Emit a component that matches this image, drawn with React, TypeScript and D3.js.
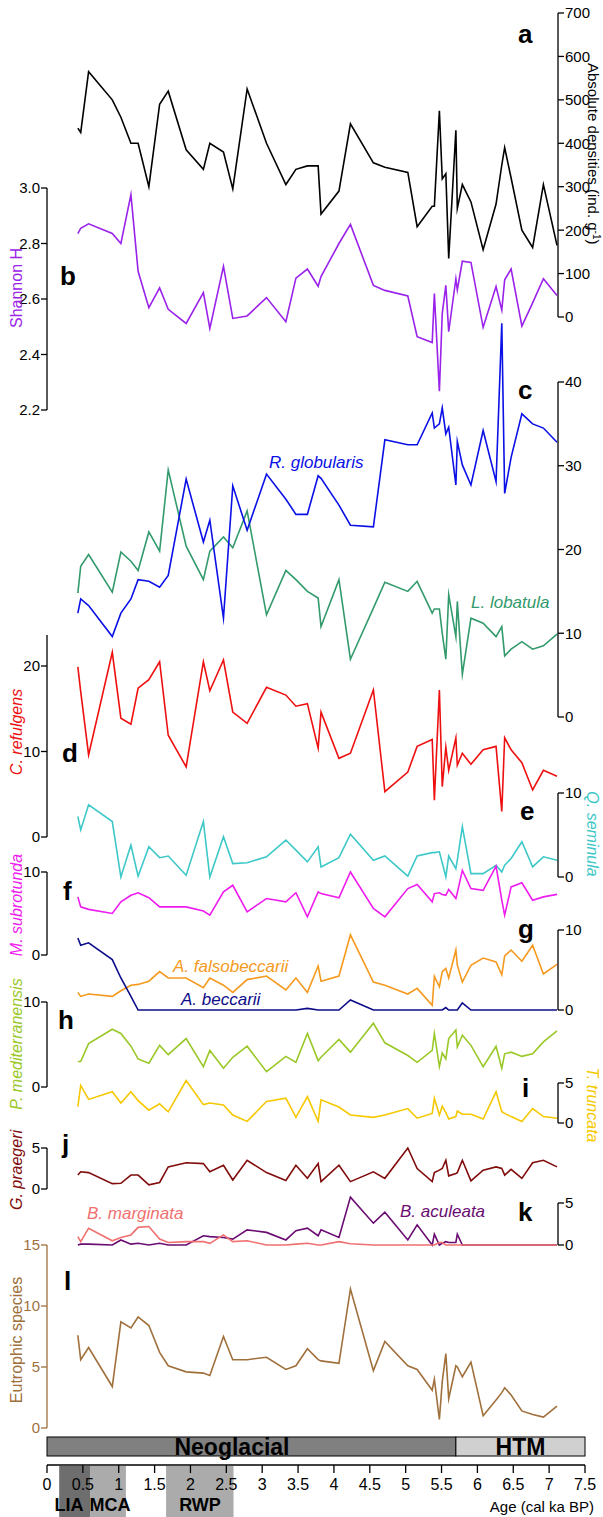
import React from 'react';
import * as d3 from 'd3';

// ---------- data ----------
const ages = [0.43,0.47,0.58,0.91,1.03,1.17,1.27,1.42,1.57,1.69,1.94,2.18,2.27,2.46,2.59,2.79,3.06,3.33,3.47,3.63,3.78,3.82,4.07,4.23,4.55,4.71,5.03,5.16,5.37,5.40,5.47,5.51,5.56,5.60,5.70,5.72,5.79,5.91,6.08,6.26,6.34,6.38,6.47,6.62,6.77,6.92,7.11];

const absDensity = [435,425,565,500,460,400,400,300,490,520,385,340,400,380,295,525,400,305,340,348,348,237,290,445,355,345,333,208,255,255,475,318,330,135,430,250,305,265,155,260,350,390,320,200,160,305,165];
const shannon = [2.836,2.855,2.871,2.836,2.80,2.976,2.70,2.569,2.64,2.563,2.512,2.623,2.494,2.718,2.53,2.539,2.605,2.518,2.675,2.708,2.646,2.681,2.80,2.869,2.649,2.631,2.611,2.464,2.443,2.62,2.268,2.548,2.649,2.482,2.673,2.633,2.736,2.732,2.498,2.645,2.56,2.669,2.708,2.502,2.586,2.673,2.613];
const rGlobularis = [12.4,14.1,13.3,9.6,12.4,14.1,16.4,16.2,15.5,16.9,28.4,20.9,23.5,11.8,27.6,22.3,29.0,26.0,24.2,24.2,28.8,28.5,25.3,22.9,22.7,33.1,32.5,32.5,36.3,34.5,35.0,36.9,33.8,34.6,27.7,32.9,30.1,27.7,34.2,28.1,47,26.7,31,36.2,35.0,34.5,32.8];
const lLobatula = [14.8,18.0,19.4,14.9,19.7,18.6,17.5,22.1,19.8,29.5,20.4,16.4,19.8,21.5,20.2,24.6,12.2,17.5,16.4,15.0,14.2,10.8,16.4,6.9,13.0,16.1,15.0,16.2,12.4,12.9,12.9,10.0,6.9,14.6,9.6,13.8,5.1,11.8,11.2,9.6,10.8,7.3,8.1,9.0,8.1,8.5,9.9];
const cRefulgens = [19.9,17.0,9.6,21.6,13.9,13.2,17.4,18.4,20.5,11.9,8.2,20.5,17.1,20.7,14.6,13.3,17.5,16.6,15.3,15.6,10.4,14.6,9.2,9.8,17.2,5.3,7.6,10.6,11.4,4.3,17.2,5.9,10.5,7.8,11.6,8.4,9.8,8.5,10.2,10.6,3.0,11.6,10.2,8.7,5.5,7.8,7.1];
const qSeminula = [7.2,5.6,8.6,6.6,0.0,3.8,0.1,3.6,2.3,2.5,0.2,6.6,0.0,4.8,1.6,1.7,2.4,4.4,3.2,1.8,3.6,1.2,2.3,5.1,2.0,2.5,0.1,2.5,2.9,2.9,3.0,1.7,0.0,2.5,1.0,2.0,6.0,0.4,0.4,1.4,0.6,1.4,2.2,4.2,1.2,2.4,2.0];
const mSubrotunda = [7.0,5.8,5.5,5.0,6.4,7.2,7.5,6.9,5.8,5.8,5.8,5.3,4.8,7.6,8.4,5.2,6.8,6.4,7.5,4.6,7.6,7.4,6.9,10.0,5.6,4.6,8.0,8.5,6.4,7.4,7.5,7.3,7.2,7.9,6.8,7.5,10.2,8.0,7.8,10.7,6.6,4.8,8.2,8.7,6.6,7.0,7.3];
const aFalsobeccarii = [2.2,1.7,2.0,1.7,2.4,3.1,3.2,3.6,4.8,4.0,4.0,2.8,4.0,3.1,2.2,3.8,4.25,2.5,4.0,2.2,5.5,3.6,4.25,9.4,3.5,3.1,2.0,2.7,0.6,4.2,2.9,4.8,5.2,4.0,7.5,5.6,3.5,5.6,6.5,6.0,4.4,6.75,7.5,6.1,8.1,4.5,5.7];
const aBeccarii = [9.0,8.1,8.4,6.3,4.0,1.7,0,0,0,0,0,0,0,0,0,0,0,0,0,0.2,0,0,0,1.25,0,0,0,0,0,0,0,0,0.3,0,0,0,0.9,0,0,0,0,0,0,0,0,0,0];
const pMediterranensis = [3.0,3.0,5.1,6.8,6.3,4.8,3.3,2.8,4.9,3.8,5.7,2.4,4.3,2.2,3.5,4.8,1.8,3.6,2.9,6.3,3.1,3.5,5.6,4.1,7.5,5.2,3.7,2.9,4.3,6.3,2.4,4.0,3.3,5.7,6.7,4.7,6.1,4.9,2.4,4.8,2.2,3.9,4.1,3.6,3.9,5.3,6.6];
const tTruncata = [2.05,4.7,2.95,3.9,2.5,3.9,2.8,1.6,2.4,1.4,5.3,2.3,2.5,2.25,1.0,0.2,2.7,3.1,0.7,3.3,0.2,2.9,2.0,1.0,0.7,1.0,1.8,0.6,1.2,3.1,1.0,2.1,1.3,0.5,0.8,1.5,1.1,1.1,0.5,3.9,1.4,1.2,0.8,0.2,1.8,0.8,0.6];
const gPraegeri = [1.7,2.1,2.0,0.65,0.7,1.7,1.7,0.5,0.8,2.7,3.2,3.1,2.1,2.9,1.1,3.5,2.0,1.05,2.9,1.3,3.1,0.9,2.9,0.9,2.1,1.3,5.0,2.5,0.9,2.0,2.3,2.5,3.5,1.6,1.9,2.0,3.5,1.0,2.3,2.7,2.5,1.7,2.4,1.3,3.2,3.5,2.7];
const bMarginata = [1.0,0.4,2.0,0.5,0.9,1.2,2.1,2.2,0.7,0.3,0.4,0.4,0.2,1.2,0.4,0.5,0,0,0.1,0.2,0,0,0.4,0.15,0,0,0,0,0,0,0.3,0.3,0,0,0,0,0,0,0,0,0,0,0,0,0,0,0];
const bAculeata = [0,0.1,0.1,0,0.6,0.1,0.2,0,0.2,0,0,1.1,1.0,0.9,0.7,1.8,1.5,0.6,1.7,2.0,1.1,1.8,0.9,5.7,2.6,3.9,0.6,2.4,0,1.3,0,0.2,0.4,0.3,0.3,1.3,0,0,0,0,0,0,0,0,0,0,0];
const eutrophic = [7.6,5.6,6.6,3.4,8.7,8.2,9.1,8.4,6.2,5.1,4.6,4.5,4.3,7.5,5.6,5.6,5.8,4.8,5.1,6.5,5.6,5.5,5.3,11.4,4.7,7.1,5.1,4.8,3.1,4.0,0.7,3.8,6.1,2.4,5.1,5.0,4.2,5.4,1.0,2.3,2.9,3.3,2.7,1.4,1.1,0.9,1.8];

const ageTicks = [0,0.5,1,1.5,2,2.5,3,3.5,4,4.5,5,5.5,6,6.5,7,7.5];
const periods = [
  { name: 'Neoglacial', from: 0, to: 5.7 },
  { name: 'HTM', from: 5.7, to: 7.5 },
];
const events = [
  { name: 'LIA', from: 0.17, to: 0.6 },
  { name: 'MCA', from: 0.6, to: 1.1 },
  { name: 'RWP', from: 1.66, to: 2.6 },
];

// ---------- layout ----------
const FONT = "'Liberation Sans', Arial, Helvetica, sans-serif";
const LEFT_X = 47;
const RIGHT_X = 558;
const x = d3.scaleLinear().domain([0, 7.5]).range([47, 585]);

type Series = { values: number[]; color: string };
type Panel = {
  letter: string; lx: number; ly: number;
  domain: [number, number]; range: [number, number];
  side: 'left' | 'right'; ticks: number[]; fmt?: (v: number) => string;
  axisColor: string; axisTop?: number; series: Series[];
};

const panels: Panel[] = [
  { letter: 'a', lx: 518, ly: 43, domain: [0, 700], range: [317, 13], side: 'right', ticks: [0,100,200,300,400,500,600,700], axisColor: '#000', series: [{ values: absDensity, color: '#000' }] },
  { letter: 'b', lx: 60, ly: 285, domain: [2.2, 3.0], range: [410, 188], side: 'left', ticks: [2.2,2.4,2.6,2.8,3.0], fmt: d3.format('.1f'), axisColor: '#000', series: [{ values: shannon, color: '#9a22ea' }] },
  { letter: 'c', lx: 518, ly: 399, domain: [0, 40], range: [717, 382], side: 'right', ticks: [0,10,20,30,40], axisColor: '#000', series: [{ values: lLobatula, color: '#329a6c' }, { values: rGlobularis, color: '#0a10e6' }] },
  { letter: 'd', lx: 62, ly: 762, domain: [0, 20], range: [837, 666], side: 'left', ticks: [0,10,20], axisColor: '#000', axisTop: 635, series: [{ values: cRefulgens, color: '#ee1010' }] },
  { letter: 'e', lx: 520, ly: 820, domain: [0, 10], range: [877, 793], side: 'right', ticks: [0,10], axisColor: '#000', series: [{ values: qSeminula, color: '#3ec8c8' }] },
  { letter: 'f', lx: 63, ly: 900, domain: [0, 10], range: [955, 872], side: 'left', ticks: [0,10], axisColor: '#000', series: [{ values: mSubrotunda, color: '#ee1cee' }] },
  { letter: 'g', lx: 518, ly: 938, domain: [0, 10], range: [1010, 930], side: 'right', ticks: [0,10], axisColor: '#000', series: [{ values: aFalsobeccarii, color: '#f59a1e' }, { values: aBeccarii, color: '#0c0c8a' }] },
  { letter: 'h', lx: 58, ly: 1029, domain: [0, 10], range: [1087, 1002], side: 'left', ticks: [0,10], axisColor: '#000', series: [{ values: pMediterranensis, color: '#9ac828' }] },
  { letter: 'i', lx: 522, ly: 1097, domain: [0, 5], range: [1123, 1083], side: 'right', ticks: [0,5], axisColor: '#000', series: [{ values: tTruncata, color: '#f6c800' }] },
  { letter: 'j', lx: 62, ly: 1153, domain: [0, 5], range: [1189, 1148], side: 'left', ticks: [0,5], axisColor: '#000', series: [{ values: gPraegeri, color: '#800c0c' }] },
  { letter: 'k', lx: 518, ly: 1221, domain: [0, 5], range: [1245, 1203], side: 'right', ticks: [0,5], axisColor: '#000', series: [{ values: bAculeata, color: '#6a0c72' }, { values: bMarginata, color: '#f07070' }] },
  { letter: 'l', lx: 64, ly: 1290, domain: [0, 15], range: [1428, 1245], side: 'left', ticks: [0,5,10,15], axisColor: '#a0703c', series: [{ values: eutrophic, color: '#a0703c' }] },
];

const leftLabels = [
  { text: 'Shannon H', color: '#9a22ea', cy: 288, italic: false },
  { text: 'C. refulgens', color: '#ee1010', cy: 732, italic: true },
  { text: 'M. subrotunda', color: '#ee1cee', cy: 905, italic: true },
  { text: 'P. mediterranensis', color: '#9ac828', cy: 1044, italic: true },
  { text: 'G. praegeri', color: '#800c0c', cy: 1170, italic: true },
  { text: 'Eutrophic species', color: '#a0703c', cy: 1340, italic: false },
];

const rightLabels = [
  { text: 'Q. seminula', color: '#3ec8c8', cy: 834 },
  { text: 'T. truncata', color: '#f6c800', cy: 1105 },
];

const speciesLabels = [
  { text: 'R. globularis', color: '#0a10e6', x: 269, y: 468 },
  { text: 'L. lobatula', color: '#329a6c', x: 471, y: 608 },
  { text: 'A. falsobeccarii', color: '#f59a1e', x: 173, y: 972 },
  { text: 'A. beccarii', color: '#0c0c8a', x: 181, y: 1005 },
  { text: 'B. marginata', color: '#f07070', x: 87, y: 1219 },
  { text: 'B. aculeata', color: '#6a0c72', x: 400, y: 1217 },
];

function PanelView({ p }: { p: Panel }) {
  const y = d3.scaleLinear().domain(p.domain).range(p.range);
  const line = d3.line<number>().x((_, i) => x(ages[i])).y((v) => y(v));
  const axX = p.side === 'left' ? LEFT_X : RIGHT_X;
  const dir = p.side === 'left' ? -1 : 1;
  const top = p.axisTop ?? y(p.domain[1]);
  const fmt = p.fmt ?? ((v: number) => String(v));
  return (
    <g>
      {p.series.map((s, k) => (
        <path key={k} d={line(s.values) ?? ''} fill="none" stroke={s.color} strokeWidth={1.6} strokeLinejoin="miter" strokeMiterlimit={10} />
      ))}
      <line x1={axX} x2={axX} y1={top} y2={y(p.domain[0])} stroke={p.axisColor} strokeWidth={1.3} />
      {p.ticks.map((t) => (
        <g key={t}>
          <line x1={axX} x2={axX + dir * 6} y1={y(t)} y2={y(t)} stroke={p.axisColor} strokeWidth={1.3} />
          <text x={axX + dir * 7} y={y(t)} dy="0.36em" textAnchor={p.side === 'left' ? 'end' : 'start'} fontSize={15} fill={p.axisColor}>{fmt(t)}</text>
        </g>
      ))}
      <text x={p.lx} y={p.ly} fontSize={26} fontWeight="bold" fill="#000">{p.letter}</text>
    </g>
  );
}

export default function App() {
  const axisY = 1465;
  return (
    <svg width={603} height={1517} viewBox="0 0 603 1517" style={{ position: 'absolute', left: 0, top: 0, background: '#fff' }} fontFamily={FONT}>
      <rect x={0} y={0} width={603} height={1517} fill="#fff" />
      {panels.map((p) => <PanelView key={p.letter} p={p} />)}

      {leftLabels.map((l) => (
        <text key={l.text} transform={`translate(22,${l.cy}) rotate(-90)`} textAnchor="middle" fontSize={16} fill={l.color} fontStyle={l.italic ? 'italic' : 'normal'}>{l.text}</text>
      ))}
      {rightLabels.map((l) => (
        <text key={l.text} transform={`translate(587,${l.cy}) rotate(90)`} textAnchor="middle" fontSize={16} fill={l.color} fontStyle="italic">{l.text}</text>
      ))}
      <text transform="translate(588,63) rotate(90)" fontSize={15} fill="#000">
        <tspan>Absolute densities (ind. g</tspan>
        <tspan dy={-5} fontSize={10}>-1</tspan>
        <tspan dy={5}>)</tspan>
      </text>
      {speciesLabels.map((s) => (
        <text key={s.text} x={s.x} y={s.y} fontSize={17} fontStyle="italic" fill={s.color}>{s.text}</text>
      ))}

      {/* period bar */}
      {periods.map((p, i) => (
        <g key={p.name}>
          <rect x={x(p.from)} y={1437} width={x(p.to) - x(p.from)} height={19} fill={i === 0 ? '#808080' : '#d0d0d0'} stroke="#000" strokeWidth={1} />
          <text x={i === 0 ? 232 : (x(p.from) + x(p.to)) / 2} y={1455} textAnchor="middle" fontSize={23} fontWeight="bold" fill="#000">{p.name}</text>
        </g>
      ))}

      {/* climate events */}
      {events.map((e) => (
        <rect key={e.name} x={x(e.from)} y={axisY + 1} width={x(e.to) - x(e.from)} height={1517 - axisY} fill={e.name === 'LIA' ? '#6e6e6e' : '#ababab'} />
      ))}

      {/* age axis */}
      <line x1={x(0)} x2={x(7.5)} y1={axisY} y2={axisY} stroke="#000" strokeWidth={1.3} />
      {ageTicks.map((t) => (
        <g key={t}>
          <line x1={x(t)} x2={x(t)} y1={axisY} y2={axisY + 8} stroke="#000" strokeWidth={1.3} />
          <text x={x(t)} y={axisY + 25} textAnchor="middle" fontSize={16} fill="#000">{String(t)}</text>
        </g>
      ))}
      {events.map((e) => (
        <text key={e.name} x={e.name === 'LIA' ? 69 : e.name === 'MCA' ? 110 : 200} y={1511} textAnchor="middle" fontSize={18} fontWeight="bold" fill="#000">{e.name}</text>
      ))}
      <text x={594} y={1512} textAnchor="end" fontSize={15} fill="#000">Age (cal ka BP)</text>
    </svg>
  );
}
